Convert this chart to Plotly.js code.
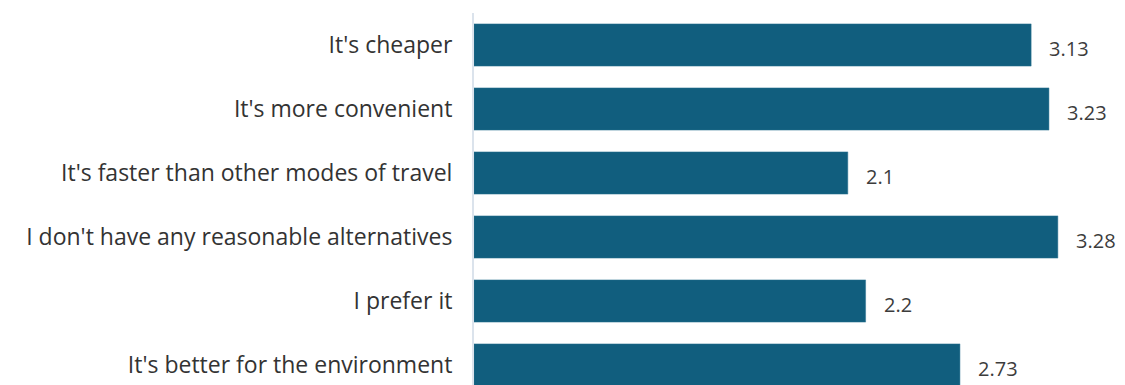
<!DOCTYPE html>
<html>
<head>
<meta charset="utf-8">
<script src="https://cdn.plot.ly/plotly-3.0.1.min.js"></script>
<style>html,body{margin:0;padding:0;background:#fff;}#chart{width:1125px;height:385px;}</style>
</head>
<body>
<div id="chart"></div>
<script>
const categories = [
  "It's cheaper",
  "It's more convenient",
  "It's faster than other modes of travel",
  "I don't have any reasonable alternatives",
  "I prefer it",
  "It's better for the environment"
];
const values = [3.13, 3.23, 2.1, 3.28, 2.2, 2.73];
const valueLabels = ["3.13", "3.23", "2.1", "3.28", "2.2", "2.73"];

const trace = {
  type: 'bar',
  orientation: 'h',
  x: values,
  y: categories,
  marker: {color: '#115e7e', line: {color: '#2f7593', width: 0.5}},
  hoverinfo: 'none'
};

const annotations = categories.map((c, i) => ({
  x: values[i], y: c, xref: 'x', yref: 'y',
  text: valueLabels[i], showarrow: false,
  xanchor: 'left', xshift: 16, yshift: -3,
  font: {family: '"Open Sans", sans-serif', size: 20, color: '#3c3c3c'}
}));

const layout = {
  width: 1125, height: 385,
  margin: {l: 474, r: 0, t: 13, b: 0, pad: 0},
  paper_bgcolor: '#ffffff', plot_bgcolor: '#ffffff',
  showlegend: false,
  bargap: 0.34,
  xaxis: {range: [0, 651/178], visible: false, fixedrange: true},
  yaxis: {
    type: 'category',
    range: [5.3125, -0.5],
    showline: true, linecolor: '#dbe3ec', linewidth: 2,
    showgrid: false, zeroline: false, ticks: '',
    ticklabelstandoff: 15,
    tickfont: {family: '"Open Sans", sans-serif', size: 23, color: '#333333'}
  },
  annotations: annotations
};

Plotly.newPlot('chart', [trace], layout, {displayModeBar: false, staticPlot: true});
</script>
</body>
</html>
